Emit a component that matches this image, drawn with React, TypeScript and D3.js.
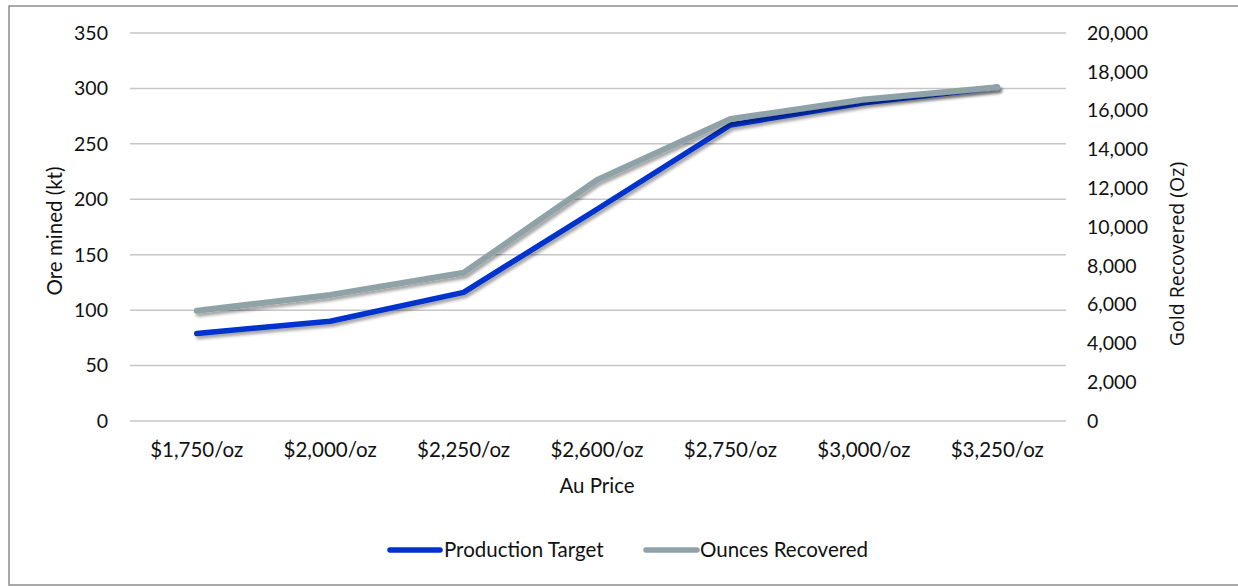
import React from "react";
import * as d3 from "d3";

// Gold price scenarios and outputs
const categories = ["$1,750/oz", "$2,000/oz", "$2,250/oz", "$2,600/oz", "$2,750/oz", "$3,000/oz", "$3,250/oz"];
const productionTarget = [79, 90, 116, 191, 267, 287, 301]; // ore mined, kt (left axis)
const ouncesRecovered = [5680, 6500, 7640, 12420, 15570, 16570, 17200]; // gold recovered, oz (right axis)
const leftTicks = [0, 50, 100, 150, 200, 250, 300, 350];
const rightTicks = [0, 2000, 4000, 6000, 8000, 10000, 12000, 14000, 16000, 18000, 20000];

const W = 1238;
const H = 586;
const FONT = "Lato, 'Open Sans', sans-serif";
const BLUE = "#0031cc";
const GREY = "#8fa2a8";
const INK = "#111";

export default function App() {
  const plot = { left: 130, right: 1064, top: 33, bottom: 421 };
  const x = d3.scaleBand<string>().domain(categories).range([plot.left, plot.right]).padding(0);
  const cx = (c: string) => (x(c) as number) + x.bandwidth() / 2;
  const yL = d3.scaleLinear().domain([0, 350]).range([plot.bottom, plot.top]);
  const yR = d3.scaleLinear().domain([0, 20000]).range([plot.bottom, plot.top]);

  const lineL = d3.line<number>().x((_, i) => cx(categories[i])).y((d) => yL(d));
  const lineR = d3.line<number>().x((_, i) => cx(categories[i])).y((d) => yR(d));
  const fmt = d3.format(",");

  return (
    <svg
      width={W}
      height={H}
      style={{ position: "fixed", left: 0, top: 0, background: "#fff" }}
      fontFamily={FONT}
    >
      <defs>
        <filter id="shadow" x="-10%" y="-10%" width="120%" height="130%">
          <feDropShadow dx="2" dy="3" stdDeviation="1.8" floodColor="#000" floodOpacity="0.35" />
        </filter>
      </defs>
      <rect x={0} y={0} width={W} height={H} fill="#fff" />
      {/* chart frame */}
      <rect x={9} y={6} width={W + 10} height={579} fill="none" stroke="#8c8c8c" strokeWidth={1.5} />

      {/* gridlines */}
      {leftTicks.map((t) => (
        <line key={t} x1={plot.left} x2={plot.right + 2} y1={yL(t)} y2={yL(t)} stroke="#c6c6c6" strokeWidth={1.5} />
      ))}

      {/* left axis labels */}
      {leftTicks.map((t) => (
        <text key={t} x={108} y={yL(t)} dy="0.35em" textAnchor="end" fontSize={19.5} fill={INK}>
          {t}
        </text>
      ))}
      {/* right axis labels */}
      {rightTicks.map((t) => (
        <text key={t} x={1087} y={yR(t)} dy="0.35em" textAnchor="start" fontSize={19.5} fill={INK}>
          {fmt(t)}
        </text>
      ))}
      {/* category labels */}
      {categories.map((c) => (
        <text key={c} x={cx(c)} y={450} dy="0.35em" textAnchor="middle" fontSize={20.5} fill={INK}>
          {c}
        </text>
      ))}

      {/* axis titles */}
      <text x={597} y={486} dy="0.35em" textAnchor="middle" fontSize={20.5} fill={INK}>
        Au Price
      </text>
      <text
        transform={`translate(55,231) rotate(-90)`}
        dy="0.35em"
        textAnchor="middle"
        fontSize={20.5}
        fill={INK}
      >
        Ore mined (kt)
      </text>
      <text
        transform={`translate(1177,254) rotate(-90)`}
        dy="0.35em"
        textAnchor="middle"
        fontSize={19.5}
        fill={INK}
        fontFamily="'Open Sans', sans-serif"
      >
        Gold Recovered (Oz)
      </text>

      {/* series */}
      <path
        d={lineL(productionTarget) ?? ""}
        fill="none"
        stroke={BLUE}
        strokeWidth={5.5}
        strokeLinecap="round"
        strokeLinejoin="round"
        filter="url(#shadow)"
      />
      <path
        d={lineR(ouncesRecovered) ?? ""}
        fill="none"
        stroke={GREY}
        strokeWidth={6}
        strokeLinecap="round"
        strokeLinejoin="round"
        filter="url(#shadow)"
      />

      {/* legend */}
      <line x1={390} x2={440} y1={550} y2={550} stroke={BLUE} strokeWidth={5.5} strokeLinecap="round" />
      <text x={444} y={550} dy="0.35em" fontSize={20.5} fill={INK}>
        Production Target
      </text>
      <line x1={646} x2={697} y1={550} y2={550} stroke={GREY} strokeWidth={5.5} strokeLinecap="round" />
      <text x={700} y={550} dy="0.35em" fontSize={20.5} fill={INK}>
        Ounces Recovered
      </text>
    </svg>
  );
}
